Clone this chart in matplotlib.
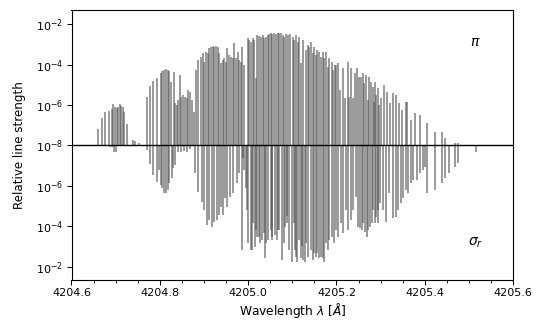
import numpy as np
import matplotlib.pyplot as plt

# ─── Datos: posición de la línea [Å] y log10 de la intensidad relativa ────────
pi_wl = [4204.660, 4204.668, 4204.675, 4204.685, 4204.692, 4204.694, 4204.698, 4204.702,
         4204.706, 4204.709, 4204.713, 4204.717, 4204.719, 4204.725, 4204.740, 4204.743,
         4204.753, 4204.771, 4204.777, 4204.785, 4204.793, 4204.802, 4204.805, 4204.809,
         4204.814, 4204.818, 4204.821, 4204.825, 4204.832, 4204.835, 4204.838, 4204.842,
         4204.845, 4204.849, 4204.853, 4204.857, 4204.861, 4204.864, 4204.868, 4204.872,
         4204.877, 4204.882, 4204.887, 4204.893, 4204.897, 4204.900, 4204.904, 4204.908,
         4204.912, 4204.916, 4204.920, 4204.923, 4204.927, 4204.931, 4204.934, 4204.938,
         4204.942, 4204.946, 4204.950, 4204.953, 4204.957, 4204.961, 4204.965, 4204.967,
         4204.972, 4204.976, 4204.980, 4204.984, 4204.987, 4204.991, 4204.999, 4205.002,
         4205.006, 4205.010, 4205.014, 4205.018, 4205.021, 4205.025, 4205.029, 4205.033,
         4205.036, 4205.040, 4205.044, 4205.048, 4205.052, 4205.055, 4205.059, 4205.063,
         4205.067, 4205.070, 4205.074, 4205.078, 4205.082, 4205.086, 4205.090, 4205.095,
         4205.101, 4205.104, 4205.108, 4205.112, 4205.116, 4205.120, 4205.125, 4205.131,
         4205.135, 4205.138, 4205.142, 4205.146, 4205.150, 4205.154, 4205.157, 4205.161,
         4205.165, 4205.169, 4205.172, 4205.176, 4205.180, 4205.184, 4205.189, 4205.193,
         4205.197, 4205.200, 4205.204, 4205.208, 4205.214, 4205.219, 4205.225, 4205.229,
         4205.233, 4205.237, 4205.242, 4205.247, 4205.251, 4205.255, 4205.259, 4205.263,
         4205.267, 4205.271, 4205.274, 4205.278, 4205.282, 4205.286, 4205.287, 4205.290,
         4205.293, 4205.297, 4205.301, 4205.308, 4205.314, 4205.321, 4205.329, 4205.335,
         4205.342, 4205.348, 4205.357, 4205.360, 4205.368, 4205.378, 4205.388, 4205.404,
         4205.423, 4205.438, 4205.446, 4205.469, 4205.475]
pi_log = [-7.19, -6.63, -6.37, -6.30, -6.20, -5.97, -6.09, -6.14,
          -6.09, -5.97, -6.04, -6.09, -6.37, -6.96, -7.74, -7.77,
          -7.87, -5.59, -5.06, -4.82, -4.68, -4.44, -4.32, -4.27,
          -4.24, -4.27, -4.32, -4.88, -4.36, -5.92, -6.00, -5.76,
          -4.52, -5.59, -5.51, -5.59, -5.68, -5.26, -5.35, -5.76,
          -6.34, -4.27, -3.78, -3.61, -3.42, -3.86, -3.37, -3.45,
          -3.20, -3.12, -3.08, -3.15, -3.08, -3.12, -3.45, -3.94,
          -3.78, -3.69, -3.86, -3.20, -3.53, -3.61, -3.69, -2.95,
          -3.69, -3.37, -3.78, -3.86, -3.12, -4.02, -2.70, -2.79,
          -2.87, -2.70, -2.79, -4.68, -2.54, -2.59, -2.62, -2.54,
          -2.70, -2.66, -2.54, -2.49, -2.46, -2.49, -2.46, -2.49,
          -2.46, -2.46, -2.46, -2.54, -2.62, -2.50, -2.54, -2.50,
          -2.62, -2.79, -2.54, -2.87, -2.62, -3.94, -2.79, -3.28,
          -3.04, -3.12, -2.87, -3.45, -3.12, -3.53, -3.28, -3.37,
          -3.61, -3.37, -3.69, -3.37, -4.11, -3.69, -3.86, -4.27,
          -4.02, -4.02, -3.94, -5.26, -4.19, -5.68, -3.86, -5.59,
          -4.19, -5.68, -4.44, -4.19, -4.60, -4.60, -4.44, -4.93,
          -4.52, -5.76, -4.60, -4.85, -5.10, -5.84, -4.85, -5.51,
          -5.18, -6.00, -5.68, -5.02, -5.35, -5.92, -5.43, -5.51,
          -5.92, -6.25, -5.84, -5.84, -6.75, -6.42, -6.50, -6.91,
          -7.33, -7.33, -7.65, -7.90, -7.90]

sig_wl = [4204.687, 4204.691, 4204.697, 4204.700, 4204.771, 4204.777, 4204.785, 4204.793,
          4204.798, 4204.802, 4204.806, 4204.810, 4204.814, 4204.818, 4204.821, 4204.827,
          4204.830, 4204.834, 4204.841, 4204.848, 4204.854, 4204.861, 4204.868, 4204.879,
          4204.887, 4204.895, 4204.900, 4204.906, 4204.912, 4204.917, 4204.922, 4204.929,
          4204.934, 4204.938, 4204.942, 4204.947, 4204.953, 4204.959, 4204.966, 4204.974,
          4204.979, 4204.985, 4204.989, 4204.991, 4204.994, 4204.998, 4205.000, 4205.006,
          4205.008, 4205.012, 4205.015, 4205.017, 4205.021, 4205.024, 4205.027, 4205.031,
          4205.036, 4205.037, 4205.040, 4205.045, 4205.051, 4205.053, 4205.055, 4205.061,
          4205.066, 4205.068, 4205.070, 4205.076, 4205.081, 4205.083, 4205.087, 4205.088,
          4205.092, 4205.099, 4205.104, 4205.106, 4205.108, 4205.111, 4205.114, 4205.119,
          4205.121, 4205.125, 4205.129, 4205.131, 4205.136, 4205.142, 4205.146, 4205.150,
          4205.154, 4205.157, 4205.161, 4205.165, 4205.169, 4205.172, 4205.176, 4205.180,
          4205.184, 4205.189, 4205.194, 4205.199, 4205.204, 4205.210, 4205.215, 4205.222,
          4205.227, 4205.232, 4205.238, 4205.244, 4205.249, 4205.253, 4205.257, 4205.261,
          4205.265, 4205.268, 4205.272, 4205.276, 4205.280, 4205.283, 4205.287, 4205.290,
          4205.293, 4205.295, 4205.299, 4205.306, 4205.312, 4205.319, 4205.329, 4205.335,
          4205.340, 4205.346, 4205.351, 4205.358, 4205.363, 4205.368, 4205.374, 4205.382,
          4205.388, 4205.395, 4205.401, 4205.406, 4205.423, 4205.438, 4205.446, 4205.455,
          4205.469, 4205.476, 4205.515]
sig_log = [-7.90, -7.90, -7.68, -7.68, -7.77, -7.06, -6.55, -6.20,
           -6.78, -6.03, -5.87, -5.65, -5.62, -5.79, -6.12, -6.37,
           -6.86, -7.02, -7.68, -7.65, -7.70, -7.65, -7.80, -6.61,
           -5.70, -5.21, -4.80, -4.05, -4.30, -3.97, -4.22, -4.30,
           -4.55, -4.96, -4.55, -5.38, -4.96, -5.46, -5.62, -6.12,
           -6.61, -2.82, -7.39, -6.78, -5.90, -4.80, -3.15, -2.82,
           -2.82, -4.14, -2.98, -3.81, -3.48, -3.48, -3.15, -3.31,
           -3.64, -2.41, -3.15, -3.31, -3.81, -3.48, -3.31, -3.56,
           -3.31, -3.81, -3.81, -2.32, -3.15, -3.97, -4.14, -4.50,
           -2.82, -2.24, -4.14, -2.82, -2.49, -2.24, -3.31, -2.41,
           -3.00, -2.32, -2.24, -3.15, -2.49, -2.82, -2.32, -2.65,
           -2.49, -2.65, -2.41, -2.49, -2.41, -2.24, -3.15, -2.82,
           -3.31, -3.48, -3.15, -3.81, -3.48, -4.14, -3.64, -4.80,
           -3.81, -4.30, -4.80, -5.46, -3.97, -3.89, -3.81, -4.14,
           -3.72, -3.48, -3.81, -3.97, -4.14, -4.80, -4.14, -4.47,
           -4.80, -4.14, -5.13, -4.80, -4.22, -5.62, -4.39, -4.47,
           -4.80, -5.13, -5.38, -5.79, -5.62, -6.12, -6.28, -6.28,
           -6.61, -6.78, -6.94, -5.62, -5.79, -6.12, -6.37, -6.61,
           -6.94, -7.11, -7.68]

YTICKS = [6, 4, 2, 0, -2, -4, -6]
YTICKLABELS = [r"$10^{-2}$", r"$10^{-4}$", r"$10^{-6}$", r"$10^{-8}$",
               r"$10^{-6}$", r"$10^{-4}$", r"$10^{-2}$"]
FLOOR = -8  # línea base: 1e-8

# ─── Figura ───────────────────────────────────────────────────────────────────
fig = plt.figure(figsize=(5.5, 3.22), dpi=100)
ax = fig.add_axes([0.130, 0.130, 0.803, 0.839])

pi_h = np.array(pi_log) - FLOOR
sig_h = np.array(sig_log) - FLOOR

# π hacia arriba, σ_r hacia abajo (espejo en escala log)
ax.vlines(pi_wl, 0, pi_h, color="#575757", lw=1.3, alpha=0.65)
ax.vlines(sig_wl, 0, -sig_h, color="#575757", lw=1.3, alpha=0.65)
ax.axhline(0, color="black", lw=1.0)

ax.set_xlim(4204.6, 4205.6)
ax.set_ylim(-6.67, 6.7)
ax.set_xticks(np.arange(4204.6, 4205.61, 0.2))
ax.set_xticks(np.arange(4204.6, 4205.61, 0.05), minor=True)
ax.set_xticklabels([f"{v:.1f}" for v in np.arange(4204.6, 4205.61, 0.2)])
ax.set_yticks(YTICKS)
ax.set_yticklabels(YTICKLABELS)
ax.tick_params(labelsize=8, length=3.5, width=0.7, pad=2.5)
ax.tick_params(which="minor", length=2, width=0.6)
for s in ax.spines.values():
    s.set_linewidth(0.8)

ax.set_xlabel(r"Wavelength $\lambda$ [$\AA$]", fontsize=8.8, labelpad=2)
ax.set_ylabel("Relative line strength", fontsize=8.6, labelpad=7)

ax.text(0.914, 0.88, r"$\pi$", transform=ax.transAxes, fontsize=10, ha="center", va="center")
ax.text(0.914, 0.137, r"$\sigma_r$", transform=ax.transAxes, fontsize=10, ha="center", va="center")

plt.savefig("out.png", dpi=100)
